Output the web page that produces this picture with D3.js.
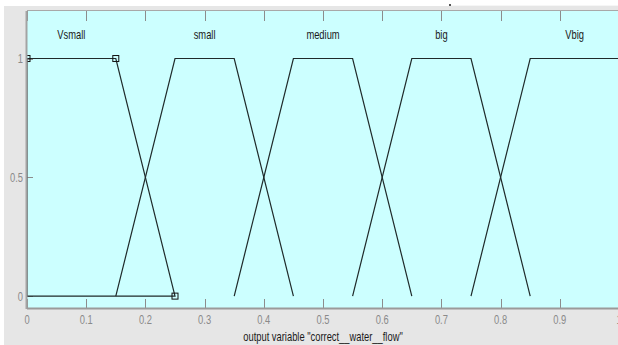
<!DOCTYPE html>
<html>
<head>
<meta charset="utf-8">
<script src="https://cdn.jsdelivr.net/npm/d3@7"></script>
<style>
  html, body { margin: 0; padding: 0; background: #ffffff; }
  svg { display: block; }
  text { font-family: "Liberation Sans", Arial, sans-serif; }
</style>
</head>
<body>
<svg id="chart" width="618" height="345"></svg>
<script>
// Membership functions of the output variable (trapezoids a, b, c, d)
const mfNames = ["Vsmall", "small", "medium", "big", "Vbig"];
const mfParams = [
  [0, 0, 0.15, 0.25],
  [0.15, 0.25, 0.35, 0.45],
  [0.35, 0.45, 0.55, 0.65],
  [0.55, 0.65, 0.75, 0.85],
  [0.75, 0.85, 1.0, 1.15]
];
const mfLevels = [0, 1, 1, 0];
const selectedIndex = 0;

const xTicks = [0, 0.1, 0.2, 0.3, 0.4, 0.5, 0.6, 0.7, 0.8, 0.9, 1];
const xTickLabels = ["0", "0.1", "0.2", "0.3", "0.4", "0.5", "0.6", "0.7", "0.8", "0.9", "1"];
const yTicks = [0, 0.5, 1];
const yTickLabels = ["0", "0.5", "1"];
const axisTitle = 'output variable "correct__water__flow"';

const svg = d3.select("#chart");
const W = 618, H = 345;

// Plot frame
const plot = { left: 27, top: 11, right: 619, bottom: 308 };
const x = d3.scaleLinear().domain([0, 1]).range([plot.left, plot.right]);
const y = d3.scaleLinear().domain([-0.05, 1.2]).range([plot.bottom, plot.top]);

const squeeze = 0.78; // narrow glyphs

// Figure background
svg.append("rect").attr("x", 0).attr("y", 0).attr("width", W).attr("height", H).attr("fill", "#ffffff");
svg.append("rect").attr("x", 4).attr("y", 6).attr("width", W - 4).attr("height", H - 6).attr("fill", "#e6e6e6");
svg.append("line").attr("x1", 450).attr("x2", W).attr("y1", 5.5).attr("y2", 5.5)
  .attr("stroke", "#f6f6f6").attr("stroke-width", 1);
svg.append("rect").attr("x", 449).attr("y", 4).attr("width", 2).attr("height", 2).attr("fill", "#555");

// Axes background
svg.append("rect")
  .attr("x", plot.left).attr("y", plot.top)
  .attr("width", plot.right - plot.left).attr("height", plot.bottom - plot.top)
  .attr("fill", "#ccffff");

svg.append("defs").append("clipPath").attr("id", "plotClip")
  .append("rect")
  .attr("x", plot.left).attr("y", plot.top)
  .attr("width", plot.right - plot.left).attr("height", plot.bottom - plot.top);

// Tick marks (inward, on top and bottom edges; left edge for y)
const tickG = svg.append("g").attr("stroke", "#8c8c8c").attr("stroke-width", 1);
xTicks.forEach(t => {
  const px = Math.round(x(t)) + 0.5;
  tickG.append("line").attr("x1", px).attr("x2", px).attr("y1", plot.bottom).attr("y2", plot.bottom - 9);
  tickG.append("line").attr("x1", px).attr("x2", px).attr("y1", plot.top).attr("y2", plot.top + 10);
});
yTicks.forEach(t => {
  const py = Math.round(y(t)) + 0.5;
  tickG.append("line").attr("x1", plot.left).attr("x2", plot.left + 6).attr("y1", py).attr("y2", py);
});

// Membership function curves
const curves = svg.append("g").attr("clip-path", "url(#plotClip)");
const line = d3.line().x(d => x(d[0])).y(d => y(d[1]));

mfParams.forEach((p, i) => {
  let pts = p.map((v, k) => [v, mfLevels[k]]);
  if (i === selectedIndex) {
    // selected function is drawn as a closed outline with vertex handles
    pts = [[p[0], 0], [p[1], 1], [p[2], 1], [p[3], 0], [p[0], 0]];
  }
  curves.append("path")
    .attr("d", line(pts))
    .attr("fill", "none")
    .attr("stroke", "#1f2a2a")
    .attr("stroke-width", 1.2);
});

const sel = mfParams[selectedIndex];
const handles = [[sel[1], 1], [sel[2], 1], [sel[3], 0]];
curves.selectAll("rect.handle").data(handles).enter().append("rect")
  .attr("class", "handle")
  .attr("x", d => x(d[0]) - 3).attr("y", d => y(d[1]) - 3)
  .attr("width", 6).attr("height", 6)
  .attr("fill", "none").attr("stroke", "#111").attr("stroke-width", 1);

// Names of the functions above their plateaus
mfParams.forEach((p, i) => {
  const cx = x((p[1] + p[2]) / 2);
  svg.append("text")
    .attr("transform", `translate(${cx},${y(1.1) + 4}) scale(${squeeze},1)`)
    .attr("text-anchor", "middle")
    .attr("font-size", 12)
    .attr("fill", "#1a1a1a")
    .text(mfNames[i]);
});

// Frame edges
svg.append("line").attr("x1", plot.left - 0.5).attr("x2", plot.left - 0.5)
  .attr("y1", plot.top).attr("y2", plot.bottom + 1)
  .attr("stroke", "#a3a3a3").attr("stroke-width", 2);
svg.append("line").attr("x1", plot.left).attr("x2", W)
  .attr("y1", plot.bottom + 0.5).attr("y2", plot.bottom + 0.5)
  .attr("stroke", "#9a9a9a").attr("stroke-width", 2);
svg.append("line").attr("x1", plot.left).attr("x2", W)
  .attr("y1", plot.top - 0.5).attr("y2", plot.top - 0.5)
  .attr("stroke", "#a8a8a8").attr("stroke-width", 1);

// Tick labels
xTicks.forEach((t, i) => {
  svg.append("text")
    .attr("transform", `translate(${x(t)},${plot.bottom + 16}) scale(${squeeze},1)`)
    .attr("text-anchor", "middle")
    .attr("font-size", 12)
    .attr("fill", "#8a8a8a")
    .text(xTickLabels[i]);
});
yTicks.forEach((t, i) => {
  svg.append("text")
    .attr("transform", `translate(${plot.left - 4},${y(t) + 4.5}) scale(${squeeze},1)`)
    .attr("text-anchor", "end")
    .attr("font-size", 12)
    .attr("fill", "#8a8a8a")
    .text(yTickLabels[i]);
});

// Axis title
svg.append("text")
  .attr("transform", `translate(${x(0.5)},${H - 4}) scale(${squeeze},1)`)
  .attr("text-anchor", "middle")
  .attr("font-size", 12)
  .attr("fill", "#1a1a1a")
  .text(axisTitle);
</script>
</body>
</html>
